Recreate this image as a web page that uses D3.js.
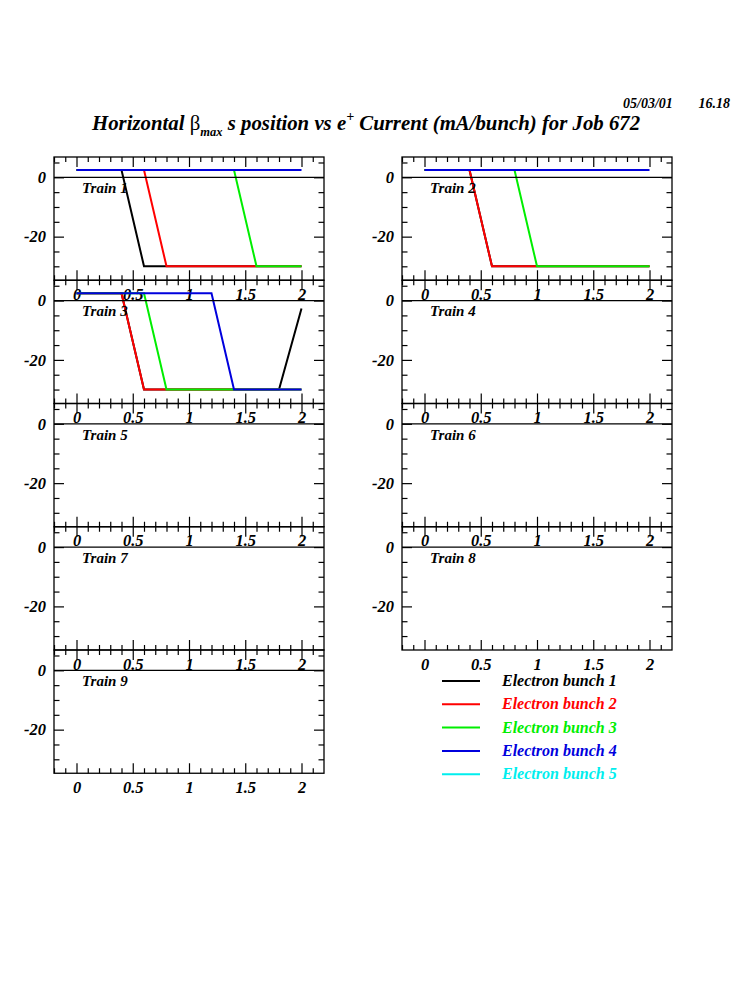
<!DOCTYPE html>
<html>
<head>
<meta charset="utf-8">
<script src="https://cdn.jsdelivr.net/npm/d3@7"></script>
<style>
  body { margin: 0; background: #fff; }
  svg { display: block; }
</style>
</head>
<body>
<div id="chart"></div>
<script>
// e+ current (mA/bunch) at which each point was taken
var currents = [0, 0.2, 0.4, 0.6, 0.8, 1.0, 1.2, 1.4, 1.6, 1.8, 2.0];

var bunchNames = ["Electron bunch 1", "Electron bunch 2", "Electron bunch 3", "Electron bunch 4", "Electron bunch 5"];
var bunchColors = ["#000000", "#ff0000", "#00ee00", "#0000dd", "#00eeee"];

// horizontal beta max s position, one array per bunch (empty = no data)
var train1 = [
    [2.5, 2.5, 2.5, -30, -30, -30, -30, -30, -30, -30, -30],
    [2.5, 2.5, 2.5, 2.5, -30, -30, -30, -30, -30, -30, -30],
    [2.5, 2.5, 2.5, 2.5, 2.5, 2.5, 2.5, 2.5, -30, -30, -30],
    [2.5, 2.5, 2.5, 2.5, 2.5, 2.5, 2.5, 2.5, 2.5, 2.5, 2.5],
    []
];
var train2 = [
    [2.5, 2.5, 2.5, -30, -30, -30, -30, -30, -30, -30, -30],
    [2.5, 2.5, 2.5, -30, -30, -30, -30, -30, -30, -30, -30],
    [2.5, 2.5, 2.5, 2.5, 2.5, -30, -30, -30, -30, -30, -30],
    [2.5, 2.5, 2.5, 2.5, 2.5, 2.5, 2.5, 2.5, 2.5, 2.5, 2.5],
    []
];
var train3 = [
    [2.5, 2.5, 2.5, -30, -30, -30, -30, -30, -30, -30, -2.7],
    [2.5, 2.5, 2.5, -30, -30, -30, -30, -30, -30, -30, -30],
    [2.5, 2.5, 2.5, 2.5, -30, -30, -30, -30, -30, -30, -30],
    [2.5, 2.5, 2.5, 2.5, 2.5, 2.5, 2.5, -30, -30, -30, -30],
    []
];
var emptyTrain = [[], [], [], [], []];
var trains = [train1, train2, train3, emptyTrain, emptyTrain, emptyTrain, emptyTrain, emptyTrain, emptyTrain];

var xMajor = [0, 0.5, 1, 1.5, 2];
var yMajor = [0, -20];

function init() {
    var w = 750;
    var h = 1000;
    var font = "'Liberation Serif', 'Times New Roman', serif";

    var svg = d3.select("#chart")
        .append("svg")
        .attr("width", w)
        .attr("height", h);

    var panelW = 270;
    var panelH = 123.25;
    var colX = [54, 402];
    var rowY = 157;

    var xMinor = d3.range(-2, 22).map(function (i) { return i / 10; })
        .filter(function (d) { return Math.round(d * 10) % 5 !== 0; });
    var yMinor = [5, -5, -10, -15, -25, -30];

    var line = d3.line();

    function styleAxis(g) {
        g.select(".domain").remove();
        g.selectAll("line").attr("stroke", "#000").attr("stroke-width", 1.2);
        g.selectAll("text")
            .attr("font-family", font)
            .attr("font-size", "16.5px")
            .attr("font-weight", "bold")
            .attr("font-style", "italic")
            .attr("fill", "#000");
    }

    trains.forEach(function (train, t) {
        var left = colX[t % 2];
        var top = rowY + Math.floor(t / 2) * panelH;

        var x = d3.scaleLinear().domain([-0.2, 2.2]).range([left, left + panelW]);
        var y = d3.scaleLinear().domain([-34.7, 6.85]).range([top + panelH, top]);

        var g = svg.append("g");

        // bunch curves
        train.forEach(function (vals, b) {
            if (!vals.length) return;
            g.append("path")
                .attr("d", line(vals.map(function (v, i) { return [x(currents[i]), y(v)]; })))
                .attr("fill", "none")
                .attr("stroke", bunchColors[b])
                .attr("stroke-width", 2);
        });

        // zero line
        g.append("line")
            .attr("x1", left).attr("x2", left + panelW)
            .attr("y1", y(0)).attr("y2", y(0))
            .attr("stroke", "#000").attr("stroke-width", 1.2);

        // frame
        g.append("rect")
            .attr("x", left).attr("y", top)
            .attr("width", panelW).attr("height", panelH)
            .attr("fill", "none")
            .attr("stroke", "#000")
            .attr("stroke-width", 1.3);

        // x axes: bottom with labels, top ticks only
        g.append("g").attr("transform", "translate(0," + (top + panelH) + ")")
            .call(d3.axisBottom(x).tickValues(xMajor).tickSize(-10).tickPadding(8)
                .tickFormat(function (d) { return String(d); }))
            .call(styleAxis);
        g.append("g").attr("transform", "translate(0," + (top + panelH) + ")")
            .call(d3.axisBottom(x).tickValues(xMinor).tickSize(-5).tickFormat(""))
            .call(styleAxis);
        g.append("g").attr("transform", "translate(0," + top + ")")
            .call(d3.axisTop(x).tickValues(xMajor).tickSize(-10).tickFormat(""))
            .call(styleAxis);
        g.append("g").attr("transform", "translate(0," + top + ")")
            .call(d3.axisTop(x).tickValues(xMinor).tickSize(-5).tickFormat(""))
            .call(styleAxis);

        // y axes: left with labels, right ticks only
        g.append("g").attr("transform", "translate(" + left + ",0)")
            .call(d3.axisLeft(y).tickValues(yMajor).tickSize(-10).tickPadding(8)
                .tickFormat(function (d) { return String(d); }))
            .call(styleAxis);
        g.append("g").attr("transform", "translate(" + left + ",0)")
            .call(d3.axisLeft(y).tickValues(yMinor).tickSize(-5.5).tickFormat(""))
            .call(styleAxis);
        g.append("g").attr("transform", "translate(" + (left + panelW) + ",0)")
            .call(d3.axisRight(y).tickValues(yMajor).tickSize(-10).tickFormat(""))
            .call(styleAxis);
        g.append("g").attr("transform", "translate(" + (left + panelW) + ",0)")
            .call(d3.axisRight(y).tickValues(yMinor).tickSize(-5.5).tickFormat(""))
            .call(styleAxis);

        g.append("text")
            .text("Train " + (t + 1))
            .attr("x", left + 28)
            .attr("y", top + 36)
            .attr("font-family", font)
            .attr("font-size", "15px")
            .attr("font-weight", "bold")
            .attr("font-style", "italic");
    });

    // legend
    var legend = svg.append("g");
    bunchNames.forEach(function (name, i) {
        var ly = 681 + i * 23.3;
        legend.append("line")
            .attr("x1", 442).attr("x2", 480)
            .attr("y1", ly).attr("y2", ly)
            .attr("stroke", bunchColors[i])
            .attr("stroke-width", 2);
        legend.append("text")
            .text(name)
            .attr("x", 502)
            .attr("y", ly + 5)
            .attr("font-family", font)
            .attr("font-size", "16px")
            .attr("font-weight", "bold")
            .attr("font-style", "italic")
            .attr("fill", bunchColors[i]);
    });

    // title
    var title = svg.append("text")
        .attr("x", 92)
        .attr("y", 130)
        .attr("font-family", font)
        .attr("font-size", "20.8px")
        .attr("font-weight", "bold")
        .attr("font-style", "italic");
    title.append("tspan").text("Horizontal ");
    title.append("tspan").text("\u03b2").attr("font-style", "normal").attr("font-weight", "normal");
    title.append("tspan").text("max").attr("font-size", "12.5px").attr("dy", 6);
    title.append("tspan").text(" s position vs e").attr("dy", -6);
    title.append("tspan").text("+").attr("font-size", "14px").attr("dy", -9);
    title.append("tspan").text(" Current (mA/bunch) for Job 672").attr("dy", 9);

    // date stamp
    svg.append("text").text("05/03/01")
        .attr("x", 623).attr("y", 108)
        .attr("font-family", font).attr("font-size", "14px")
        .attr("font-weight", "bold").attr("font-style", "italic");
    svg.append("text").text("16.18")
        .attr("x", 730).attr("y", 108)
        .attr("text-anchor", "end")
        .attr("font-family", font).attr("font-size", "14px")
        .attr("font-weight", "bold").attr("font-style", "italic");
}
window.onload = init;
</script>
</body>
</html>
